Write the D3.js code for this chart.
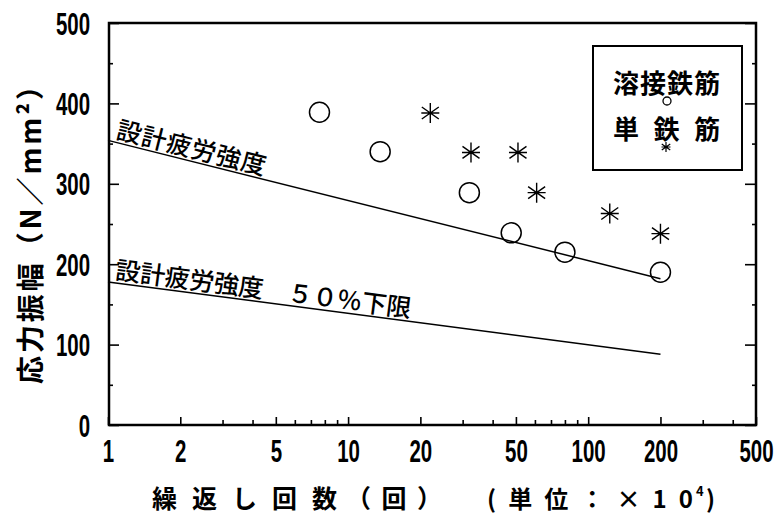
<!DOCTYPE html>
<html>
<head>
<meta charset="utf-8">
<script src="https://cdn.jsdelivr.net/npm/d3@7"></script>
<style>
  body { margin: 0; background: #fff; }
  svg { display: block; }
  .jp { font-family: "Noto Sans CJK JP", "Noto Sans", sans-serif; }
  .num { font-family: "Liberation Sans", Arial, sans-serif; font-weight: bold; }
</style>
</head>
<body>
<svg id="chart" width="777" height="519"></svg>
<script>
// cycles (x10^4) and stress ranges (N/mm2)
const weldedN = [7.6, 13.6, 32, 47.8, 80, 200];
const weldedS = [389, 340, 289, 239, 215, 190];
const plainN = [22, 32.5, 51, 61, 123, 200];
const plainS = [388, 339, 339, 289, 263, 238];

const lineN = [1, 200];
const designS = [354, 182];
const lowerS = [178, 88];

const xTicks = [1, 2, 5, 10, 20, 50, 100, 200, 500];
const xMinor = [3, 4, 6, 7, 8, 9, 30, 40, 60, 70, 80, 90, 300, 400];
const yTicks = [0, 100, 200, 300, 400, 500];
const yMinor = [50, 150, 250, 350, 450];

const legendLabels = ['溶接鉄筋', '単 鉄 筋'];

const svg = d3.select('#chart');

const x = d3.scaleLog().domain([1, 500]).range([108, 756]);
const y = d3.scaleLinear().domain([0, 500]).range([425, 23]);

const plotLeft = x.range()[0], plotRight = x.range()[1];
const plotTop = y.range()[1], plotBottom = y.range()[0];

// frame
svg.append('rect')
  .attr('x', plotLeft + 1).attr('y', plotTop)
  .attr('width', plotRight - plotLeft - 1).attr('height', plotBottom - plotTop)
  .attr('fill', 'none').attr('stroke', '#000').attr('stroke-width', 2.5);

const squeeze = 0.66;

function styleAxis(g) {
  g.select('.domain').remove();
  g.selectAll('line').attr('stroke', '#000').attr('stroke-width', 1.6);
}

// bottom axis
const xAxis = svg.append('g')
  .attr('transform', `translate(0,${plotBottom})`)
  .call(d3.axisBottom(x).tickValues(xTicks).tickFormat(d3.format('d')).tickSize(-8).tickPadding(15))
  .call(styleAxis);
xAxis.selectAll('text')
  .attr('class', 'num')
  .attr('font-size', 31)
  .attr('fill', '#000')
  .attr('transform', `scale(${squeeze},1)`);

svg.append('g')
  .attr('transform', `translate(0,${plotBottom})`)
  .call(d3.axisBottom(x).tickValues(xMinor).tickFormat('').tickSize(-5))
  .call(styleAxis);

// left axis
const yAxis = svg.append('g')
  .attr('transform', `translate(${plotLeft + 1},0)`)
  .call(d3.axisLeft(y).tickValues(yTicks).tickSize(-10).tickPadding(19 / squeeze))
  .call(styleAxis);
yAxis.selectAll('text')
  .attr('class', 'num')
  .attr('font-size', 31)
  .attr('fill', '#000')
  .attr('dy', '0.36em')
  .attr('transform', `scale(${squeeze},1)`);

svg.append('g')
  .attr('transform', `translate(${plotLeft + 1},0)`)
  .call(d3.axisLeft(y).tickValues(yMinor).tickFormat('').tickSize(-4))
  .call(styleAxis);

// right axis
svg.append('g')
  .attr('transform', `translate(${plotRight},0)`)
  .call(d3.axisRight(y).tickValues(yTicks).tickFormat('').tickSize(-11))
  .call(styleAxis);
svg.append('g')
  .attr('transform', `translate(${plotRight},0)`)
  .call(d3.axisRight(y).tickValues(yMinor).tickFormat('').tickSize(-4))
  .call(styleAxis);

// design lines
const line = d3.line().x(d => x(d[0])).y(d => y(d[1]));
const designLine = lineN.map((n, i) => [n, designS[i]]);
const lowerLine = lineN.map((n, i) => [n, lowerS[i]]);

svg.append('path').datum(designLine)
  .attr('d', line).attr('fill', 'none').attr('stroke', '#000').attr('stroke-width', 1.5);
svg.append('path').datum(lowerLine)
  .attr('d', line).attr('fill', 'none').attr('stroke', '#000').attr('stroke-width', 1.5);

function lineLabel(pts, text, startN, len, size) {
  const x0 = x(pts[0][0]), y0 = y(pts[0][1]);
  const x1 = x(pts[1][0]), y1 = y(pts[1][1]);
  const ang = Math.atan2(y1 - y0, x1 - x0);
  const px = x(startN);
  const py = y0 + (px - x0) * (y1 - y0) / (x1 - x0);
  svg.append('text')
    .attr('class', 'jp')
    .attr('transform', `translate(${px},${py}) rotate(${ang * 180 / Math.PI}) translate(0,-4)`)
    .attr('font-size', size)
    .attr('font-weight', 500)
    .attr('textLength', len)
    .attr('lengthAdjust', 'spacing')
    .text(text);
}
lineLabel(designLine, '設計疲労強度', 1.06, 153, 25);
lineLabel(lowerLine, '設計疲労強度　５０％下限', 1.06, 298, 25);

// markers
const star = r => `M0,${-r}L0,${r}M${-r * 0.85},${-r * 0.6}L${r * 0.85},${r * 0.6}M${-r * 0.85},${r * 0.6}L${r * 0.85},${-r * 0.6}M${-r * 0.9},0L${r * 0.9},0`;

svg.append('g').selectAll('circle')
  .data(weldedN.map((n, i) => [n, weldedS[i]]))
  .join('circle')
  .attr('cx', d => x(d[0])).attr('cy', d => y(d[1]))
  .attr('r', 10)
  .attr('fill', 'none').attr('stroke', '#000').attr('stroke-width', 1.5);

svg.append('g').selectAll('path')
  .data(plainN.map((n, i) => [n, plainS[i]]))
  .join('path')
  .attr('transform', d => `translate(${x(d[0])},${y(d[1])})`)
  .attr('d', star(10))
  .attr('fill', 'none').attr('stroke', '#000').attr('stroke-width', 1.4);

// legend
const lg = svg.append('g');
lg.append('rect')
  .attr('x', 593).attr('y', 46).attr('width', 149).attr('height', 124)
  .attr('fill', '#fff').attr('stroke', '#000').attr('stroke-width', 2);
lg.selectAll('text.leg')
  .data(legendLabels)
  .join('text')
  .attr('class', 'jp leg')
  .attr('x', 613).attr('y', (d, i) => 93 + i * 46)
  .attr('font-size', 26).attr('font-weight', 'bold')
  .attr('textLength', 107).attr('lengthAdjust', 'spacing')
  .text(d => d);
lg.append('circle')
  .attr('cx', 667).attr('cy', 101).attr('r', 4)
  .attr('fill', '#fff').attr('stroke', '#000').attr('stroke-width', 1.3);
lg.append('path')
  .attr('transform', 'translate(666,147)')
  .attr('d', star(5))
  .attr('fill', 'none').attr('stroke', '#000').attr('stroke-width', 1.2);

// axis titles
svg.append('text')
  .attr('class', 'jp')
  .attr('transform', 'translate(41,228) rotate(-90)')
  .attr('text-anchor', 'middle')
  .attr('font-size', 28).attr('font-weight', 'bold')
  .attr('textLength', 312).attr('lengthAdjust', 'spacing')
  .text('応力振幅（N／mm²）');

svg.append('text')
  .attr('class', 'jp')
  .attr('x', 152).attr('y', 508)
  .attr('font-size', 25).attr('font-weight', 'bold')
  .attr('textLength', 185).attr('lengthAdjust', 'spacing')
  .text('繰返し回数');
svg.append('text')
  .attr('class', 'jp')
  .attr('x', 346).attr('y', 508)
  .attr('font-size', 25).attr('font-weight', 'bold')
  .attr('textLength', 96).attr('lengthAdjust', 'spacing')
  .text('（回）');

svg.append('text')
  .attr('class', 'jp')
  .attr('x', 487).attr('y', 508)
  .attr('font-size', 24).attr('font-weight', 'bold')
  .attr('textLength', 206).attr('lengthAdjust', 'spacing')
  .text('(単位：×10');
svg.append('text')
  .attr('class', 'jp')
  .attr('x', 696).attr('y', 496)
  .attr('font-size', 13).attr('font-weight', 'bold')
  .text('4');
svg.append('text')
  .attr('class', 'jp')
  .attr('x', 706).attr('y', 508)
  .attr('font-size', 24).attr('font-weight', 'bold')
  .text(')');
</script>
</body>
</html>
